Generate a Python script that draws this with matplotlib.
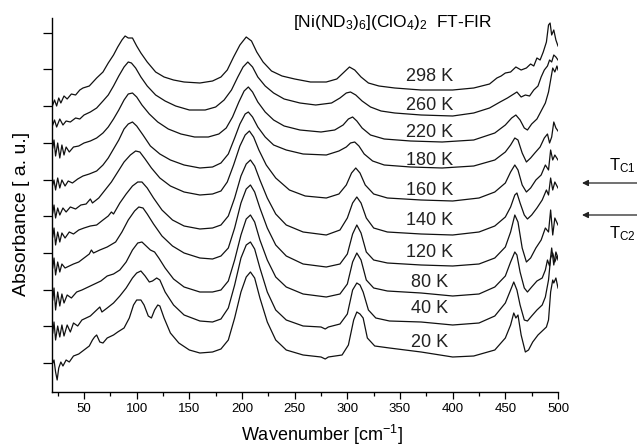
import numpy as np
import matplotlib
matplotlib.use("Agg")
import matplotlib.pyplot as plt

plt.rcParams['font.family'] = ['Liberation Sans', 'DejaVu Sans']
plt.rcParams['mathtext.default'] = 'regular'

# FT-FIR spectra: (wavenumber cm-1, absorbance a.u. incl. stacking offset)
s298 = [(20.3, 287), (22, 292), (24, 286), (26, 294), (28, 289), (31, 296), (34, 293), (38, 298),
        (42, 297), (46, 302), (49, 304), (55, 306), (62, 314), (68, 320), (73, 329), (78, 337),
        (82, 345), (86, 352), (89, 356), (92, 354), (96, 354), (100, 346), (104, 339), (110, 330),
        (118, 320), (126, 315), (135, 312), (145, 310), (160, 309), (172, 311), (180, 315), (186, 322),
        (192, 335), (198, 347), (204, 355), (209, 351), (214, 340), (220, 330), (228, 321), (238, 316),
        (250, 313), (265, 310), (280, 310), (290, 313), (296, 319), (302, 325), (307, 322), (313, 315),
        (320, 309), (330, 306), (345, 304), (370, 302), (400, 302), (420, 304), (435, 308), (442, 314),
        (446, 316), (450, 319), (455, 320), (460, 325), (465, 322), (470, 324), (474, 328), (477, 326),
        (480, 334), (483, 332), (486, 340), (489, 350), (491, 367), (492.5, 369), (494, 357), (496, 362),
        (498, 352), (500, 346)]
s260 = [(20.3, 267), (22, 272), (24, 265), (27, 273), (30, 267), (33, 271), (37, 270), (42, 274),
        (46, 273), (50, 277), (56, 280), (62, 284), (68, 291), (73, 297), (78, 306), (83, 316),
        (88, 325), (92, 330), (95, 329), (99, 324), (104, 315), (110, 306), (118, 297), (127, 291),
        (137, 286), (150, 282), (165, 282), (175, 285), (183, 292), (190, 302), (196, 315), (201, 325),
        (205.5, 330), (210, 325), (215, 315), (222, 306), (230, 299), (240, 293), (255, 289), (270, 287),
        (285, 289), (293, 294), (299, 299), (303, 300), (308, 297), (314, 291), (322, 285), (332, 281),
        (345, 279), (370, 277), (400, 276), (420, 279), (435, 284), (445, 290), (452, 294), (458, 298),
        (461, 300), (465, 295), (469, 297), (473, 296), (477, 302), (481, 306), (484, 315), (487, 322),
        (490, 326), (492, 332), (494, 330), (496, 337), (498, 335), (500, 332)]
s220 = [(20.3, 244), (21.5, 252), (23, 236), (25, 249), (27, 234), (29, 247), (31, 237), (33, 245),
        (36, 240), (40, 245), (45, 246), (50, 249), (56, 251), (62, 254), (68, 259), (73, 265),
        (78, 273), (83, 282), (88, 292), (92, 298), (96, 299), (100, 295), (105, 287), (112, 278),
        (120, 270), (130, 263), (142, 258), (155, 255), (168, 255), (178, 258), (185, 264), (191, 275),
        (197, 290), (202, 301), (206, 305), (210, 300), (215, 290), (222, 280), (230, 272), (240, 266),
        (255, 262), (275, 260), (288, 262), (296, 267), (301, 273), (305, 275), (309, 271), (314, 264),
        (322, 257), (335, 253), (360, 251), (390, 250), (420, 252), (440, 259), (450, 267), (456, 274),
        (460, 277), (464, 272), (468, 264), (471, 262), (475, 268), (480, 273), (485, 283), (488, 289),
        (491, 300), (493, 312), (495, 324), (497, 320), (499, 326), (500, 322)]
s180 = [(20.3, 207), (21.5, 212), (23, 202), (25, 214), (27, 204), (29, 212), (32, 206), (35, 211),
        (39, 209), (44, 213), (49, 216), (55, 218), (62, 221), (68, 227), (73, 234), (78, 243),
        (83, 252), (88, 263), (92, 268), (96, 270), (100, 266), (106, 257), (113, 246), (122, 238),
        (132, 232), (145, 227), (160, 224), (172, 225), (180, 229), (187, 238), (193, 254), (198, 268),
        (203, 278), (206, 280), (210, 275), (215, 265), (222, 255), (230, 247), (242, 242), (258, 238),
        (280, 237), (292, 241), (299, 245), (303, 249), (307, 250), (311, 246), (316, 238), (324, 231),
        (335, 227), (360, 225), (390, 224), (420, 226), (440, 232), (450, 240), (455, 247), (459, 254),
        (462, 252), (466, 239), (470, 230), (474, 234), (478, 239), (483, 245), (487, 254), (490, 258),
        (492, 249), (494, 255), (496, 270), (498, 264), (500, 261)]
s160 = [(20.3, 179), (21.5, 187), (23, 174), (25, 184), (27, 177), (30, 184), (33, 180), (37, 185),
        (42, 183), (47, 187), (52, 188), (56, 193), (58, 189), (64, 194), (70, 202), (76, 210),
        (82, 220), (88, 230), (94, 237), (99, 241), (103, 240), (108, 233), (114, 224), (122, 214),
        (132, 206), (145, 200), (160, 197), (172, 198), (180, 201), (186, 210), (192, 227), (198, 246),
        (203, 257), (207, 261), (211, 255), (216, 242), (223, 227), (232, 214), (245, 202), (260, 196),
        (280, 194), (292, 198), (299, 207), (304, 219), (308, 224), (312, 219), (317, 207), (325, 198),
        (338, 194), (370, 192), (400, 191), (425, 194), (440, 200), (450, 209), (455, 220), (459, 227),
        (462, 222), (466, 207), (470, 200), (474, 204), (479, 212), (484, 217), (488, 227), (491, 222),
        (493, 242), (495, 232), (497, 237), (500, 232)]
s140 = [(20.3, 155), (21.5, 164), (23, 147), (25, 160), (27, 150), (29, 159), (32, 154), (36, 160),
        (40, 158), (45, 162), (50, 164), (56, 166), (62, 167), (68, 172), (73, 176), (76, 180),
        (78, 178), (84, 189), (90, 198), (96, 206), (101, 210), (105, 210), (110, 204), (116, 194),
        (124, 182), (134, 172), (145, 166), (160, 163), (172, 164), (180, 167), (187, 176), (193, 194),
        (199, 216), (204, 228), (208, 232), (212, 226), (217, 212), (224, 194), (232, 178), (242, 167),
        (258, 160), (280, 157), (293, 162), (300, 174), (305, 189), (309, 195), (313, 189), (318, 174),
        (325, 164), (338, 160), (370, 158), (400, 157), (425, 160), (440, 166), (450, 175), (455, 185),
        (459, 197), (461, 199), (464, 189), (468, 177), (471, 173), (475, 177), (480, 184), (485, 192),
        (489, 202), (491, 197), (493, 214), (495, 202), (497, 210), (500, 204)]
s120 = [(20.3, 124), (21.5, 134), (23, 117), (25, 130), (27, 120), (29, 128), (32, 124), (36, 126),
        (40, 128), (45, 130), (50, 134), (55, 138), (57, 142), (59, 139), (65, 142), (72, 145),
        (80, 150), (86, 160), (92, 172), (98, 181), (102, 185), (106, 184), (110, 178), (116, 168),
        (124, 156), (134, 146), (145, 139), (160, 134), (172, 133), (180, 136), (187, 144), (193, 164),
        (199, 189), (204, 203), (208, 207), (212, 200), (217, 184), (224, 164), (232, 147), (242, 136),
        (258, 128), (280, 125), (293, 128), (300, 138), (305, 158), (309, 167), (313, 159), (318, 140),
        (325, 132), (338, 129), (370, 127), (400, 126), (425, 128), (440, 134), (450, 145), (455, 160),
        (459, 177), (462, 170), (466, 144), (470, 130), (474, 134), (479, 144), (484, 152), (488, 164),
        (491, 160), (493, 182), (495, 157), (497, 174), (500, 167)]
s80 = [(20.3, 92), (21.5, 104), (23, 82), (25, 100), (27, 86), (29, 98), (31, 89), (34, 97),
       (38, 94), (43, 100), (48, 102), (54, 105), (60, 108), (66, 111), (72, 116), (78, 118),
       (84, 122), (90, 130), (96, 142), (101, 149), (105, 150), (109, 146), (113, 142), (117, 140),
       (121, 134), (127, 124), (135, 113), (145, 105), (160, 100), (172, 100), (180, 102), (187, 111),
       (193, 132), (199, 157), (204, 173), (208, 177), (212, 170), (217, 152), (224, 132), (232, 115),
       (242, 105), (258, 98), (280, 95), (293, 98), (300, 108), (305, 130), (309, 139), (313, 132),
       (318, 112), (325, 104), (338, 101), (370, 99), (400, 96), (425, 98), (440, 105), (450, 116),
       (455, 130), (459, 140), (461, 137), (464, 120), (468, 104), (471, 100), (475, 105), (480, 111),
       (485, 114), (488, 122), (490, 132), (492, 126), (494, 144), (496, 127), (498, 140), (500, 134)]
s40 = [(20.3, 59), (21.5, 70), (23, 52), (25, 66), (27, 55), (29, 67), (31, 56), (34, 67),
       (37, 60), (40, 69), (44, 66), (48, 72), (52, 74), (56, 76), (62, 82), (65, 85),
       (67, 80), (72, 84), (78, 89), (84, 96), (90, 104), (96, 114), (100, 119), (104, 121),
       (108, 116), (112, 110), (115, 111), (119, 114), (122, 112), (127, 100), (135, 87), (145, 77),
       (160, 71), (172, 70), (180, 73), (187, 84), (193, 107), (199, 134), (204, 147), (208, 150),
       (212, 143), (217, 124), (224, 100), (232, 82), (242, 72), (258, 66), (275, 65), (279, 63),
       (282, 65), (293, 68), (300, 78), (305, 102), (309, 109), (312, 107), (315, 100), (320, 82),
       (327, 74), (340, 71), (370, 70), (400, 67), (425, 69), (440, 76), (450, 89), (455, 102),
       (458, 110), (461, 102), (464, 87), (468, 72), (471, 71), (475, 76), (480, 82), (485, 87),
       (488, 95), (491, 112), (493, 134), (495, 139), (497, 130), (499, 136), (500, 132)]
s20 = [(20.3, 29), (21.5, 32), (23, 20), (24.5, 12), (26, 24), (28, 30), (30, 26), (33, 32),
       (36, 30), (40, 36), (45, 38), (50, 42), (55, 46), (58, 52), (60, 55), (62, 57),
       (65, 50), (68, 49), (72, 54), (78, 57), (82, 60), (88, 64), (93, 74), (97, 87),
       (100, 92), (104, 92), (107, 87), (111, 76), (114, 74), (117, 82), (120, 87), (122, 86),
       (126, 74), (132, 59), (140, 49), (150, 42), (160, 39), (172, 40), (180, 43), (187, 52),
       (193, 74), (199, 100), (204, 115), (208, 120), (212, 114), (217, 94), (224, 70), (232, 52),
       (242, 42), (258, 37), (275, 35), (279, 33), (282, 35), (295, 37), (301, 47), (306, 72),
       (309, 80), (312, 78), (315, 74), (319, 54), (326, 46), (340, 44), (370, 40), (400, 35),
       (420, 36), (440, 42), (450, 54), (455, 67), (458, 79), (460, 74), (462, 77), (465, 57),
       (469, 40), (472, 42), (476, 50), (481, 57), (486, 62), (489, 65), (491, 72), (493, 100),
       (495, 112), (496, 109), (498, 114), (500, 104)]

spectra = [s298, s260, s220, s180, s160, s140, s120, s80, s40, s20]
temps = ['298 K', '260 K', '220 K', '180 K', '160 K', '140 K', '120 K', '80 K', '40 K', '20 K']
label_y = [311, 282, 255, 227, 197, 167, 135, 105, 79, 45]

fig = plt.figure(figsize=(6.37, 4.48), dpi=100)
ax = fig.add_axes([52 / 637, 56 / 448, 506 / 637, 374 / 448])

for spec in spectra:
    arr = np.array(spec)
    ax.plot(arr[:, 0], arr[:, 1], color='#111111', lw=0.9)

for t, yl in zip(temps, label_y):
    ax.text(378, yl, t, ha='center', va='baseline', fontsize=13, color='#222222')

ax.set_xlim(19.6, 500)
ax.set_ylim(0, 374)
ax.set_xticks(np.arange(50, 501, 50))
ax.set_xticks(np.arange(25, 501, 25), minor=True)
ax.set_yticks(np.arange(29, 360, 36.7))
ax.set_yticklabels([])
ax.tick_params(axis='x', which='major', direction='out', length=5, width=0.9, labelsize=9.5, pad=3)
ax.tick_params(axis='x', which='minor', direction='out', length=3, width=0.9)
ax.tick_params(axis='y', which='major', direction='out', length=6.5, width=0.9)
ax.spines['top'].set_visible(False)
ax.spines['right'].set_visible(False)
ax.spines['left'].set_linewidth(1.0)
ax.spines['bottom'].set_linewidth(1.0)

ax.set_xlabel(r'Wavenumber [cm$^{-1}$]', fontsize=13)
ax.xaxis.set_label_coords((321.5 - 52) / 506, -0.083)
ax.set_ylabel('Absorbance [ a. u.]', fontsize=14)
ax.yaxis.set_label_coords(-0.0435, (392 - 214) / 374)

fig.text(293 / 637, 1 - 27 / 448, r'[Ni(ND$_3$)$_6$](ClO$_4$)$_2$  FT-FIR',
         fontsize=12.5, ha='left', va='baseline')

# phase transition markers on the right
fig.text(609 / 637, 1 - 170 / 448, r'T$_{C1}$', fontsize=12, ha='left', va='baseline')
fig.text(609 / 637, 1 - 238 / 448, r'T$_{C2}$', fontsize=12, ha='left', va='baseline')
for yp in [183, 215]:
    ax.annotate('', xy=(582, 448 - yp), xycoords='figure pixels',
                xytext=(640, 448 - yp), textcoords='figure pixels',
                arrowprops=dict(arrowstyle='-|>', color='#222222', lw=0.9,
                                mutation_scale=9, shrinkA=0, shrinkB=0))

fig.savefig('out.png', dpi=100)
